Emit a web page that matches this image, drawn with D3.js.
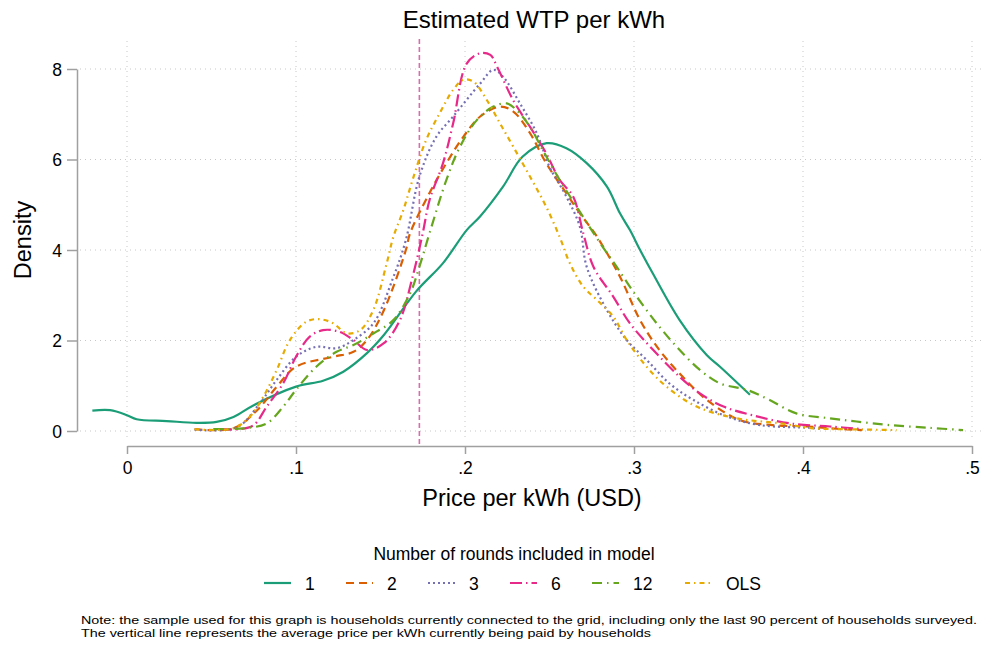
<!DOCTYPE html>
<html><head><meta charset="utf-8">
<script src="https://cdn.jsdelivr.net/npm/d3@7"></script>
<style>body{margin:0;background:#fff}svg{display:block;font-family:"Liberation Sans",Arial,sans-serif}</style>
</head><body><svg id="c" width="984" height="647"></svg>
<script>
// ---- data ----
const seriesNames = ["1","2","3","6","12","OLS"];
const xTicks = [0,0.1,0.2,0.3,0.4,0.5];
const yTicks = [0,2,4,6,8];
const avgPrice = 0.173;

const s1 = [[-0.0205,0.45],[-0.01,0.46],[0,0.35],[0.0057,0.26],[0.0235,0.22],[0.041,0.18],[0.053,0.2],[0.063,0.31],[0.075,0.57],[0.1,0.98],[0.116,1.11],[0.128,1.31],[0.142,1.72],[0.152,2.12],[0.171,3.08],[0.187,3.71],[0.201,4.44],[0.2089,4.74],[0.2225,5.4],[0.234,6.06],[0.2483,6.36],[0.26,6.25],[0.272,5.92],[0.284,5.4],[0.2917,4.81],[0.2976,4.44],[0.3036,4.0],[0.311,3.49],[0.327,2.45],[0.343,1.68],[0.3509,1.42],[0.3686,0.8]];
const s2 = [[0.04,0.04],[0.063,0.06],[0.077,0.46],[0.0886,0.98],[0.1,1.42],[0.122,1.64],[0.134,1.75],[0.142,2.01],[0.152,2.67],[0.165,4.0],[0.1675,4.37],[0.179,5.26],[0.189,5.92],[0.199,6.5],[0.209,6.95],[0.2207,7.17],[0.2286,7.06],[0.2385,6.58],[0.248,5.92],[0.26,5.25],[0.268,4.81],[0.278,4.3],[0.2917,3.41],[0.3036,2.45],[0.315,1.79],[0.327,1.27],[0.343,0.69],[0.3627,0.24],[0.382,0.13],[0.402,0.1],[0.42,0.05],[0.435,0.02]];
const s3 = [[0.04,0.03],[0.065,0.08],[0.0787,0.62],[0.0886,1.13],[0.1,1.64],[0.112,1.86],[0.124,1.83],[0.134,2.01],[0.146,2.39],[0.157,3.34],[0.165,4.22],[0.173,5.62],[0.183,6.5],[0.193,6.95],[0.209,7.68],[0.2168,7.98],[0.2225,7.83],[0.2325,7.24],[0.2425,6.58],[0.25,5.84],[0.26,5.18],[0.268,4.51],[0.272,3.63],[0.284,2.67],[0.2957,2.01],[0.3075,1.57],[0.321,1.05],[0.335,0.69],[0.355,0.32],[0.3746,0.13],[0.404,0.07],[0.41,0.05]];
const s6 = [[0.055,0.04],[0.067,0.04],[0.075,0.13],[0.0827,0.54],[0.0925,1.06],[0.1,1.64],[0.108,2.08],[0.116,2.23],[0.126,2.19],[0.134,2.01],[0.142,1.79],[0.152,1.94],[0.1615,2.45],[0.169,3.41],[0.175,4.37],[0.179,5.1],[0.187,5.92],[0.193,6.8],[0.201,8.12],[0.209,8.35],[0.215,8.31],[0.219,8.05],[0.2285,7.31],[0.2385,6.72],[0.248,6.14],[0.256,5.55],[0.264,5.18],[0.27,4.37],[0.276,3.63],[0.2877,2.97],[0.2976,2.38],[0.3114,1.79],[0.327,1.2],[0.339,0.83],[0.353,0.54],[0.37,0.35],[0.392,0.17],[0.416,0.1],[0.4355,0.04]];
const s12 = [[0.051,0.04],[0.069,0.06],[0.0827,0.17],[0.0925,0.54],[0.1,0.91],[0.112,1.42],[0.124,1.75],[0.134,1.9],[0.146,2.16],[0.1576,2.45],[0.1675,3.04],[0.173,3.63],[0.179,4.37],[0.189,5.55],[0.197,6.28],[0.207,6.87],[0.2168,7.17],[0.2247,7.24],[0.2306,7.09],[0.2385,6.72],[0.246,6.21],[0.256,5.55],[0.266,4.96],[0.28,4.15],[0.2897,3.63],[0.3016,2.97],[0.3134,2.38],[0.3253,1.86],[0.339,1.35],[0.351,1.05],[0.3667,0.91],[0.38,0.69],[0.396,0.39],[0.416,0.28],[0.4317,0.21],[0.4515,0.13],[0.475,0.07],[0.4947,0.02]];
const sOLS = [[0.04,0.04],[0.063,0.06],[0.0728,0.32],[0.0807,0.76],[0.0886,1.35],[0.0964,2.01],[0.1063,2.42],[0.1142,2.47],[0.122,2.38],[0.13,2.16],[0.138,2.23],[0.1457,2.67],[0.1537,3.71],[0.1576,4.29],[0.1635,4.88],[0.169,5.55],[0.177,6.43],[0.185,7.02],[0.193,7.54],[0.199,7.76],[0.205,7.72],[0.213,7.31],[0.2207,6.8],[0.2286,6.28],[0.2385,5.62],[0.248,4.96],[0.256,4.29],[0.262,3.71],[0.27,3.19],[0.278,2.9],[0.2877,2.53],[0.2957,2.01],[0.3075,1.42],[0.3193,0.98],[0.337,0.54],[0.3608,0.28],[0.3864,0.17],[0.406,0.06],[0.426,0.04],[0.4554,0.02]];

const seriesData = [s1,s2,s3,s6,s12,sOLS];
const colors = ["#1b9e77","#d95f02","#7570b3","#e7298a","#66a61e","#e6ab02"];
const dashes = [null,"8,5","2,3","12,4,1.5,4","10,5,1.5,5","5,4,1.5,4"];

// ---- chart ----
const svg = d3.select("#c");
const x = d3.scaleLinear().domain([0,0.5]).range([127,972]);
const y = d3.scaleLinear().domain([0,8]).range([431,69]);
const fmt = d => d===0 ? "0" : d3.format(".1f")(d).replace(/^0/,"");

// grid
svg.append("g").selectAll("line").data(yTicks).join("line")
  .attr("x1",80).attr("x2",984).attr("y1",d=>y(d)).attr("y2",d=>y(d))
  .attr("stroke","#c8c8c8").attr("stroke-width",1).attr("stroke-dasharray","1,4");
svg.append("g").selectAll("line").data(xTicks).join("line")
  .attr("x1",d=>x(d)).attr("x2",d=>x(d)).attr("y1",41).attr("y2",441)
  .attr("stroke","#c8c8c8").attr("stroke-width",1).attr("stroke-dasharray","1,4");

// axes
const xAxis = svg.append("g").attr("transform","translate(0,446)")
  .call(d3.axisBottom(x).tickValues(xTicks).tickFormat(fmt).tickSize(8).tickSizeOuter(0));
const yAxis = svg.append("g").attr("transform","translate(77,0)")
  .call(d3.axisLeft(y).tickValues(yTicks).tickFormat(d3.format("d")).tickSize(10).tickSizeOuter(0));
[xAxis,yAxis].forEach(g=>{
  g.select(".domain").attr("stroke","#a0a0a0").attr("stroke-width",1.5);
  g.selectAll(".tick line").attr("stroke","#a0a0a0").attr("stroke-width",1.5);
  g.selectAll(".tick text").attr("fill","#000").style("font-size","17.5px").style("font-family","'Liberation Sans',Arial,sans-serif");
});
xAxis.selectAll(".tick text").attr("dy","0").attr("y",28);
yAxis.selectAll(".tick text").attr("x",-15).attr("dy","0.35em");

// vertical average line
svg.append("line").attr("x1",x(avgPrice)).attr("x2",x(avgPrice)).attr("y1",39).attr("y2",446)
  .attr("stroke","#d56fae").attr("stroke-width",1.6).attr("stroke-dasharray","5,3");

// curves
const line = d3.line().x(d=>x(d[0])).y(d=>y(d[1])).curve(d3.curveCatmullRom.alpha(0.5));
seriesData.forEach((s,i)=>{
  svg.append("path").datum(s).attr("d",line).attr("fill","none")
    .attr("stroke",colors[i]).attr("stroke-width",2.2)
    .attr("stroke-dasharray",dashes[i]);
});

// titles
svg.append("text").attr("x",534).attr("y",28).attr("text-anchor","middle").style("font-size","24px").text("Estimated WTP per kWh");
svg.append("text").attr("x",532).attr("y",506).attr("text-anchor","middle").style("font-size","23.5px").text("Price per kWh (USD)");
svg.append("text").attr("transform","translate(31,240) rotate(-90)").attr("text-anchor","middle").style("font-size","23.5px").text("Density");

// legend
svg.append("text").attr("x",514).attr("y",560).attr("text-anchor","middle").style("font-size","17.5px").text("Number of rounds included in model");
const legX = [264,346,428,510,592,685];
const leg = svg.append("g");
seriesNames.forEach((n,i)=>{
  leg.append("line").attr("x1",legX[i]).attr("x2",legX[i]+27).attr("y1",583).attr("y2",583)
    .attr("stroke",colors[i]).attr("stroke-width",2.2).attr("stroke-dasharray",dashes[i]);
  leg.append("text").attr("x",legX[i]+41).attr("y",589.5).style("font-size","17.5px").text(n);
});

// note
svg.append("text").attr("x",81).attr("y",624).style("font-size","11px")
  .attr("textLength",896).attr("lengthAdjust","spacingAndGlyphs")
  .text("Note: the sample used for this graph is households currently connected to the grid, including only the last 90 percent of households surveyed.");
svg.append("text").attr("x",81).attr("y",637).style("font-size","11px")
  .attr("textLength",570).attr("lengthAdjust","spacingAndGlyphs")
  .text("The vertical line represents the average price per kWh currently being paid by households");
</script></body></html>
